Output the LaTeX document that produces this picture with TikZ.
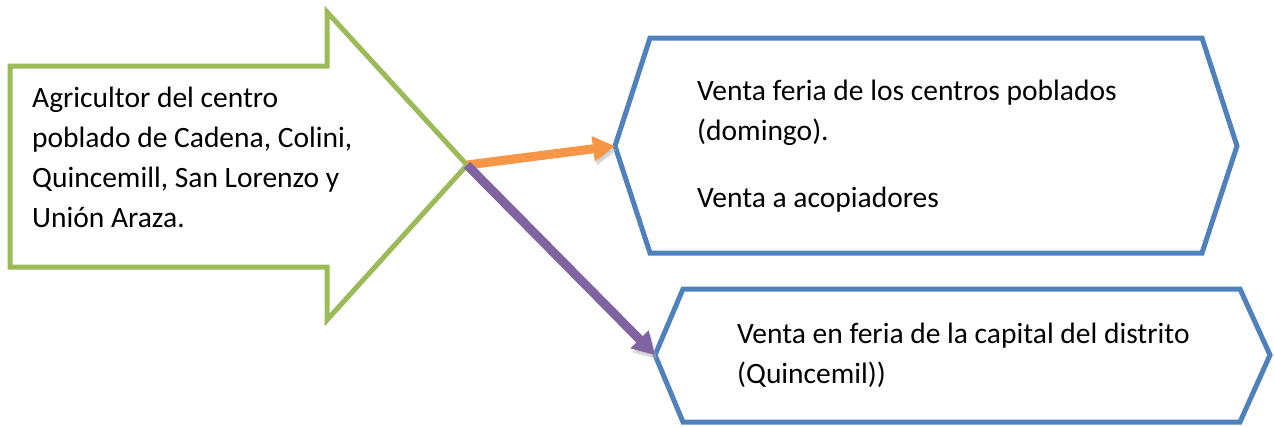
\documentclass[tikz,border=0pt]{standalone}
\usepackage{fontspec}
\setmainfont{Carlito}
\usetikzlibrary{arrows.meta,positioning}
\definecolor{agrigreen}{HTML}{9BBB59}
\definecolor{boxblue}{HTML}{4F81BD}
\definecolor{flowor}{HTML}{F79646}
\definecolor{flowpu}{HTML}{8064A2}
\tikzset{
 txt/.style={anchor=west,align=left,inner sep=0pt,font=\fontsize{29.5}{40}\selectfont},
 outline/.style={line width=5pt,line join=miter},
 flow/.style={line width=9pt,-{Triangle[width=24pt,length=22pt]},
  preaction={draw=black!30,opacity=.5,transform canvas={shift={(2pt,-4pt)}}}}
}
\begin{document}
\begin{tikzpicture}[x=1pt,y=-1pt]
\useasboundingbox (0,0) rectangle (1274,426);
% block arrow of the producers
\draw[outline,agrigreen] (10,66)--(327,66)--(327,12)--(467,165)--(327,320)--(327,267)--(10,267)--cycle;
\coordinate (tip) at (467,165);
\node[txt] (agri) at (32,157) {Agricultor del centro\\poblado de Cadena, Colini,\\Quincemill, San Lorenzo y\\Unión Araza.};
% hexagon boxes
\draw[outline,boxblue] (615,146)--(650,38)--(1202,38)--(1237,146)--(1202,253)--(650,253)--cycle;
\coordinate (feria) at (615,146);
\node[txt] (local) at (697,146) {Venta feria de los centros poblados\\(domingo).\\[27pt]Venta a acopiadores};
\draw[outline,boxblue] (655,355)--(683,289)--(1240,289)--(1270,355)--(1240,422)--(683,422)--cycle;
\coordinate (capital) at (655,355);
\node[txt] (dist) at (737,355) {Venta en feria de la capital del distrito\\(Quincemil))};
% flows
\draw[flow,flowor] (tip)--(feria);
\draw[flow,flowpu] (tip)--(capital);
\end{tikzpicture}
\end{document}
